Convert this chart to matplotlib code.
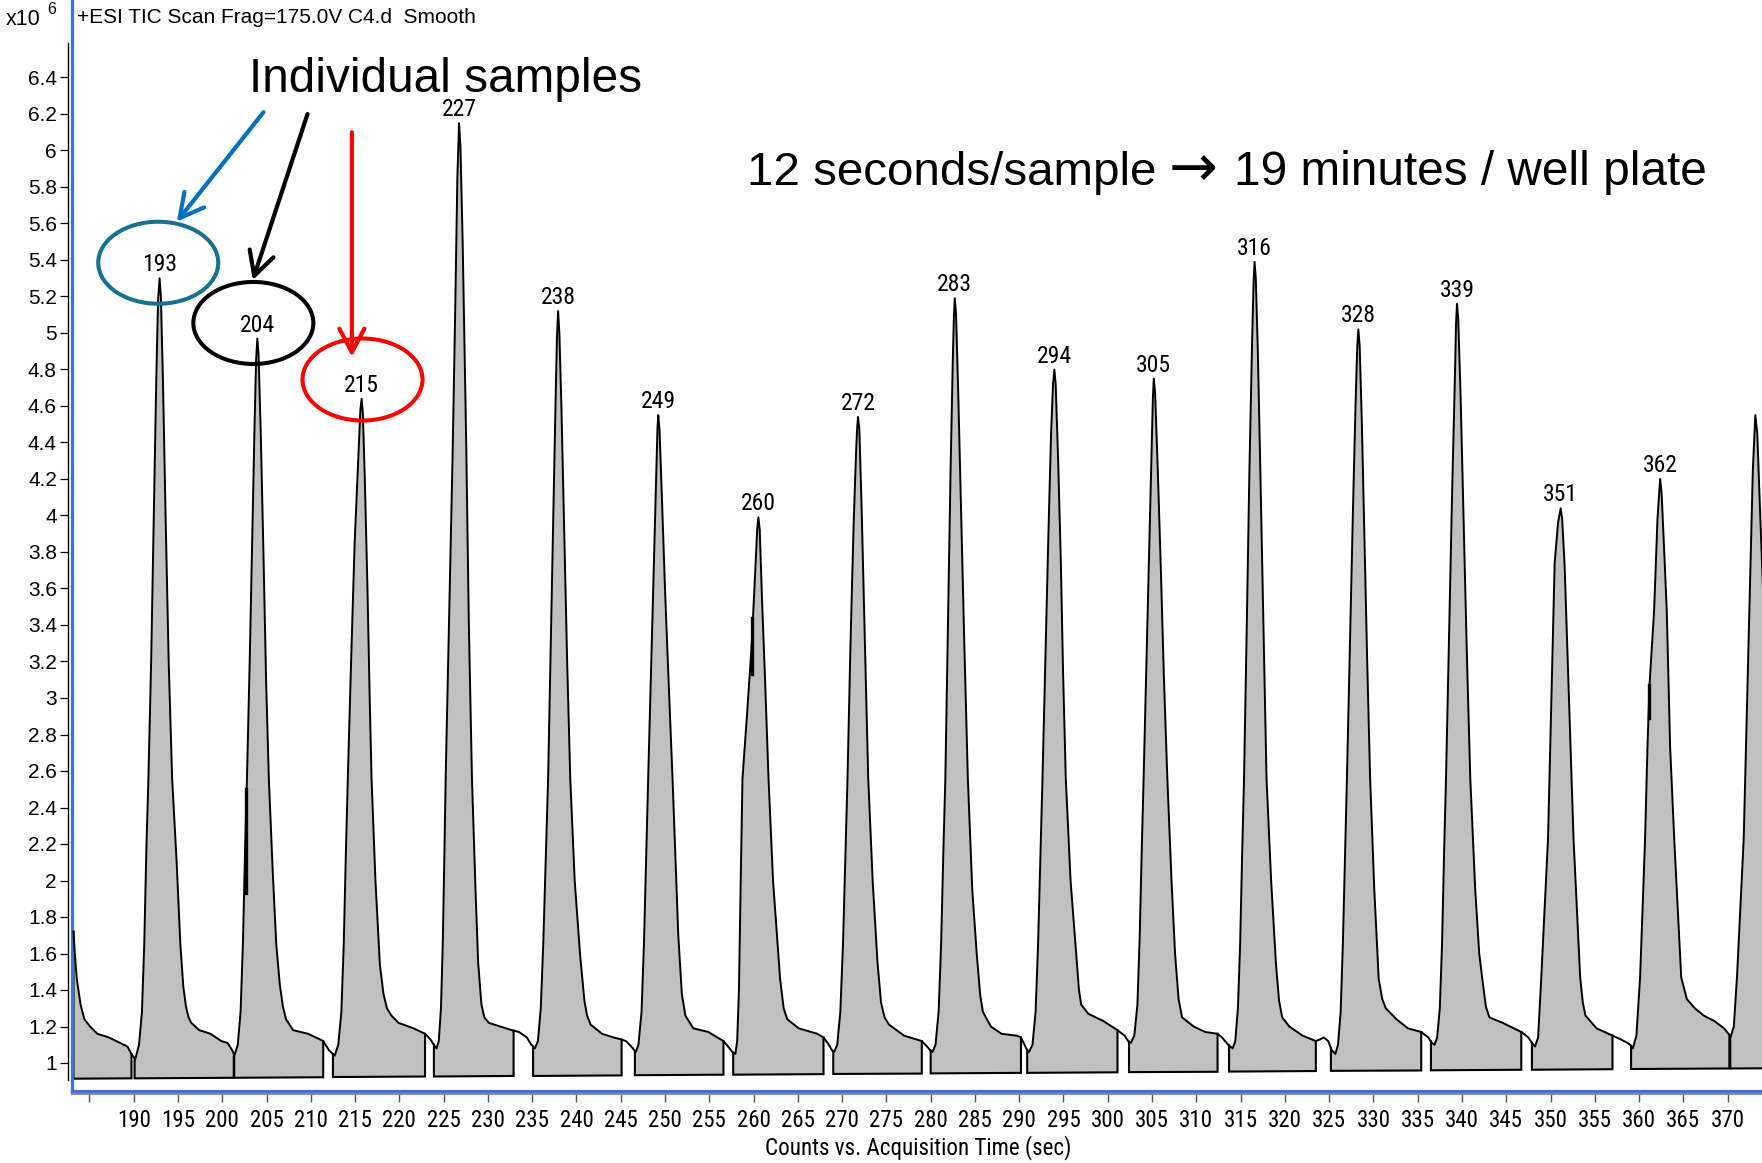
import numpy as np
import matplotlib
matplotlib.use("Agg")
import matplotlib.pyplot as plt
from matplotlib import font_manager as fm
from matplotlib.patches import Ellipse, Polygon

# ---------------- data (time in sec, counts in 10^6) ----------------
trace_pre = [(183.2, 1.72), (183.35, 1.60), (183.58, 1.46), (184.0, 1.32), (184.43, 1.24), (185.07, 1.20),
             (185.9, 1.16), (187.2, 1.14), (188.47, 1.11), (189.3, 1.09), (189.74, 1.05)]
trace_193 = [(190.17, 1.02), (190.6, 1.10), (190.93, 1.28), (191.19, 1.65), (191.44, 2.19), (191.66, 2.56),
             (191.97, 3.20), (192.3, 4.10), (192.55, 4.75), (192.75, 5.18), (192.92, 5.30), (193.07, 5.20),
             (193.3, 4.75), (193.6, 4.00), (193.95, 3.20), (194.34, 2.56), (194.85, 2.10), (195.27, 1.65),
             (195.6, 1.42), (195.9, 1.31), (196.2, 1.25), (196.5, 1.22), (197.4, 1.18), (198.67, 1.16),
             (199.9, 1.12), (200.6, 1.11), (201.0, 1.08)]
trace_204 = [(201.4, 1.045), (201.75, 1.10), (202.07, 1.28), (202.33, 1.65), (202.57, 2.15), (202.79, 2.56),
             (203.1, 3.20), (203.4, 3.90), (203.65, 4.50), (203.82, 4.85), (203.96, 4.97), (204.1, 4.88),
             (204.35, 4.45), (204.65, 3.80), (204.95, 3.10), (205.26, 2.56), (205.7, 2.05), (206.1, 1.65),
             (206.5, 1.43), (206.85, 1.31), (207.2, 1.24), (208.0, 1.18), (209.7, 1.16), (211.0, 1.13),
             (211.4, 1.12), (212.05, 1.07)]
trace_215 = [(212.7, 1.04), (213.1, 1.10), (213.45, 1.28), (213.72, 1.65), (213.96, 2.15), (214.18, 2.56),
             (214.55, 3.20), (214.95, 3.85), (215.35, 4.30), (215.6, 4.58), (215.74, 4.64), (215.88, 4.56),
             (216.1, 4.20), (216.4, 3.60), (216.65, 3.00), (216.86, 2.56), (217.3, 2.00), (217.8, 1.54),
             (218.2, 1.38), (218.6, 1.30), (219.1, 1.26), (219.9, 1.22), (221.6, 1.19), (222.9, 1.16),
             (223.5, 1.13), (223.9, 1.10)]
trace_227 = [(224.2, 1.08), (224.45, 1.12), (224.7, 1.30), (224.9, 1.65), (225.07, 2.10), (225.23, 2.56),
             (225.6, 3.40), (226.0, 4.30), (226.3, 5.10), (226.55, 5.85), (226.74, 6.15), (226.9, 6.02),
             (227.15, 5.50), (227.55, 4.40), (227.85, 3.40), (228.2, 2.56), (228.6, 1.95), (228.9, 1.55),
             (229.27, 1.32), (229.6, 1.25), (230.1, 1.22), (231.4, 1.20), (232.7, 1.18), (233.5, 1.17),
             (234.4, 1.14), (234.9, 1.10)]
trace_238 = [(235.3, 1.08), (235.65, 1.12), (235.97, 1.30), (236.25, 1.65), (236.55, 2.15), (236.8, 2.56),
             (237.1, 3.30), (237.4, 4.05), (237.65, 4.65), (237.8, 4.98), (237.93, 5.12), (238.07, 5.00),
             (238.3, 4.60), (238.6, 3.95), (238.95, 3.20), (239.3, 2.56), (239.8, 2.00), (240.4, 1.60),
             (240.9, 1.34), (241.2, 1.26), (241.6, 1.21), (242.9, 1.16), (244.2, 1.14), (245.0, 1.13),
             (245.6, 1.12), (246.2, 1.09)]
trace_249 = [(246.7, 1.06), (247.0, 1.10), (247.35, 1.28), (247.62, 1.65), (247.88, 2.15), (248.1, 2.56),
             (248.45, 3.20), (248.8, 3.85), (249.05, 4.30), (249.15, 4.48), (249.24, 4.55), (249.38, 4.47),
             (249.65, 4.10), (250.0, 3.60), (250.4, 3.10), (250.85, 2.56), (251.2, 2.10), (251.5, 1.70),
             (251.9, 1.38), (252.3, 1.26), (253.2, 1.19), (254.9, 1.17), (256.6, 1.12), (257.3, 1.08),
             (257.6, 1.06)]
trace_260 = [(257.95, 1.05), (258.15, 1.12), (258.35, 1.40), (258.55, 2.00), (258.75, 2.56), (259.25, 2.90),
             (259.8, 3.30), (260.15, 3.65), (260.42, 3.93), (260.55, 3.99), (260.7, 3.92), (260.95, 3.55),
             (261.3, 3.10), (261.69, 2.56), (262.2, 2.00), (263.0, 1.46), (263.4, 1.30), (263.8, 1.24),
             (265.1, 1.19), (267.2, 1.16), (267.9, 1.14), (268.5, 1.10), (268.85, 1.07)]
trace_272 = [(269.1, 1.06), (269.45, 1.10), (269.8, 1.28), (270.1, 1.65), (270.38, 2.15), (270.61, 2.56),
             (270.95, 3.30), (271.3, 3.95), (271.58, 4.35), (271.7, 4.48), (271.8, 4.54), (271.95, 4.47),
             (272.2, 4.05), (272.5, 3.45), (272.95, 2.56), (273.45, 2.00), (274.0, 1.55), (274.4, 1.33),
             (274.8, 1.25), (275.3, 1.21), (277.0, 1.15), (279.0, 1.12), (279.6, 1.09), (279.95, 1.07)]
trace_283 = [(280.2, 1.06), (280.55, 1.10), (280.9, 1.28), (281.18, 1.65), (281.43, 2.15), (281.66, 2.56),
             (281.95, 3.40), (282.25, 4.25), (282.5, 4.85), (282.63, 5.10), (282.73, 5.19), (282.87, 5.10),
             (283.1, 4.70), (283.45, 4.00), (283.8, 3.30), (284.2, 2.56), (284.7, 1.95), (285.2, 1.60),
             (285.6, 1.37), (285.9, 1.28), (286.8, 1.20), (288.0, 1.16), (289.7, 1.15), (290.2, 1.14),
             (290.6, 1.10), (290.9, 1.07)]
trace_294 = [(291.1, 1.06), (291.5, 1.10), (291.85, 1.28), (292.13, 1.65), (292.4, 2.15), (292.63, 2.56),
             (292.95, 3.20), (293.3, 3.90), (293.6, 4.45), (293.82, 4.72), (293.97, 4.80), (294.12, 4.72),
             (294.4, 4.30), (294.7, 3.75), (294.95, 3.15), (295.26, 2.56), (295.8, 2.00), (296.4, 1.62),
             (296.75, 1.40), (297.0, 1.32), (297.8, 1.27), (299.5, 1.23), (301.1, 1.18), (301.9, 1.15),
             (302.3, 1.12)]
trace_305 = [(302.6, 1.11), (303.0, 1.15), (303.35, 1.32), (303.6, 1.68), (303.83, 2.15), (304.05, 2.56),
             (304.4, 3.25), (304.75, 3.95), (305.0, 4.45), (305.1, 4.65), (305.2, 4.75), (305.35, 4.67),
             (305.65, 4.25), (306.0, 3.70), (306.35, 3.10), (306.73, 2.56), (307.2, 2.00), (307.6, 1.60),
             (308.0, 1.35), (308.4, 1.25), (309.7, 1.20), (311.0, 1.17), (312.4, 1.16), (312.9, 1.14),
             (313.6, 1.10)]
trace_316 = [(314.1, 1.08), (314.4, 1.12), (314.7, 1.30), (314.95, 1.65), (315.18, 2.15), (315.39, 2.56),
             (315.7, 3.40), (316.0, 4.25), (316.3, 4.95), (316.47, 5.28), (316.58, 5.39), (316.72, 5.30),
             (316.95, 4.90), (317.25, 4.20), (317.6, 3.35), (317.93, 2.56), (318.45, 2.00), (319.0, 1.54),
             (319.35, 1.34), (319.7, 1.25), (320.5, 1.20), (322.0, 1.15), (323.5, 1.12), (324.0, 1.13),
             (324.4, 1.14), (324.9, 1.12), (325.3, 1.07)]
trace_328 = [(325.7, 1.05), (326.0, 1.10), (326.3, 1.28), (326.55, 1.65), (326.8, 2.15), (327.01, 2.56),
             (327.35, 3.30), (327.7, 4.05), (327.98, 4.60), (328.17, 4.92), (328.3, 5.02), (328.45, 4.93),
             (328.7, 4.50), (329.0, 3.85), (329.3, 3.20), (329.63, 2.56), (330.1, 1.95), (330.6, 1.46),
             (331.0, 1.35), (331.4, 1.30), (332.6, 1.24), (333.9, 1.19), (335.4, 1.17), (336.2, 1.14),
             (336.6, 1.11)]
trace_339 = [(336.9, 1.10), (337.2, 1.14), (337.5, 1.30), (337.75, 1.65), (337.98, 2.15), (338.2, 2.56),
             (338.55, 3.35), (338.9, 4.15), (339.2, 4.75), (339.33, 5.05), (339.44, 5.16), (339.58, 5.08),
             (339.85, 4.65), (340.2, 3.95), (340.55, 3.25), (340.94, 2.56), (341.5, 1.95), (341.95, 1.60),
             (342.3, 1.46), (342.7, 1.31), (343.1, 1.25), (344.6, 1.22), (346.7, 1.17), (347.5, 1.14),
             (347.9, 1.11)]
trace_351 = [(348.25, 1.09), (348.6, 1.14), (348.96, 1.47), (349.72, 2.23), (350.09, 2.98), (350.47, 3.74),
             (350.85, 3.96), (351.15, 4.04), (351.32, 3.98), (351.6, 3.72), (352.1, 2.98), (352.6, 2.23),
             (353.35, 1.47), (353.65, 1.33), (353.95, 1.26), (355.2, 1.19), (357.0, 1.15), (357.9, 1.13),
             (358.7, 1.11), (359.0, 1.10)]
trace_362 = [(359.3, 1.08), (359.7, 1.15), (360.12, 1.47), (360.68, 2.23), (360.95, 2.73), (361.18, 3.07),
             (361.7, 3.48), (362.08, 3.98), (362.38, 4.20), (362.55, 4.12), (362.8, 3.85), (363.13, 3.48),
             (363.51, 2.73), (363.97, 2.23), (364.76, 1.47), (365.4, 1.35), (366.3, 1.30), (367.3, 1.26),
             (368.5, 1.23), (369.6, 1.19), (370.1, 1.16)]
trace_373 = [(370.35, 1.145), (370.7, 1.20), (371.06, 1.47), (371.82, 2.23), (372.46, 3.48), (372.85, 4.25),
             (373.13, 4.55), (373.35, 4.45), (373.7, 3.98), (374.0, 3.60)]

sample_labels = ["193", "204", "215", "227", "238", "249", "260", "272", "283", "294", "305", "316",
                 "328", "339", "351", "362"]
sample_traces = [trace_193, trace_204, trace_215, trace_227, trace_238, trace_249, trace_260, trace_272,
                 trace_283, trace_294, trace_305, trace_316, trace_328, trace_339, trace_351, trace_362]

# integration windows (start, end) and their baselines
seg_start = [183.2, 190.1, 201.35, 212.5, 223.9, 235.1, 246.6, 257.7, 269.0, 280.0, 290.9, 302.4,
             313.7, 325.2, 336.5, 347.9, 359.1, 370.3]
seg_end = [189.75, 201.3, 211.4, 222.9, 232.9, 245.1, 256.6, 267.9, 279.0, 290.2, 301.1, 312.4,
           323.5, 335.4, 346.7, 357.0, 370.2, 374.5]
base_start = [0.914, 0.916, 0.919, 0.923, 0.926, 0.929, 0.933, 0.936, 0.940, 0.943, 0.946, 0.950,
              0.953, 0.957, 0.960, 0.963, 0.967, 0.970]
base_end = [0.916, 0.919, 0.922, 0.926, 0.929, 0.932, 0.936, 0.939, 0.942, 0.946, 0.949, 0.952,
            0.956, 0.959, 0.963, 0.966, 0.970, 0.971]

# small integration markers on peak flanks (time, low, high)
marks = [(202.72, 1.93, 2.50), (259.85, 3.13, 3.44), (361.12, 2.89, 3.07)]

# highlighted samples (index into sample list), colours, centre offsets (sec, counts)
highlight_idx = [0, 1, 2]
highlight_col = ["#17708F", "#000000", "#FF0000"]
highlight_off = [(-0.15, 0.085), (-0.45, 0.085), (0.1, 0.105)]
# arrows: (tail t, tail v) -> (tip t, tip v)
arrow_tail = [(204.66, 6.21), (209.63, 6.20), (214.64, 6.10)]
arrow_tip = [(194.87, 5.61), (203.45, 5.29), (214.64, 4.87)]
arrow_col = ["#0070C0", "#000000", "#FF0000"]

x_ticks = list(range(185, 371, 5))
y_ticks = [1.0, 1.2, 1.4, 1.6, 1.8, 2.0, 2.2, 2.4, 2.6, 2.8, 3.0, 3.2, 3.4, 3.6, 3.8, 4.0, 4.2,
           4.4, 4.6, 4.8, 5.0, 5.2, 5.4, 5.6, 5.8, 6.0, 6.2, 6.4]

# ---------------- fonts ----------------
names = {f.name for f in fm.fontManager.ttflist}
REG = "Liberation Sans" if "Liberation Sans" in names else "DejaVu Sans"
NARROW = None
for cand in ("Liberation Sans Narrow", "Arial Narrow", "Roboto Condensed", "Open Sans Condensed",
             "Noto Sans Condensed", "DejaVu Sans Condensed"):
    if cand in names:
        NARROW = cand
        break
if NARROW is None:
    NARROW, XT_SIZE, PK_SIZE, AXL_SIZE = REG, 15.5, 16, 15
else:
    XT_SIZE, PK_SIZE, AXL_SIZE = 16.5, 17, 16.6
plt.rcParams["font.family"] = [REG, "DejaVu Sans"]
ARROW_FONT = ["DejaVu Sans"]

# ---------------- layout ----------------
W, H = 1762, 1163
fig = plt.figure(figsize=(W / 100, H / 100), dpi=100)

PX_T0, PX_PER_S = 133.7, 8.855      # x pixel of t=190, pixels per second
PY_V0, PX_PER_V = 1063.0, 182.5     # y pixel (from top) of 1.0, pixels per unit


def t_at(x):
    return 190.0 + (x - PX_T0) / PX_PER_S


def v_at(y):
    return 1.0 + (PY_V0 - y) / PX_PER_V


AX_L, AX_B = 71.5, 1090.7
ax = fig.add_axes([AX_L / W, 1 - AX_B / H, (W - AX_L) / W, AX_B / H])
ax.set_xlim(t_at(AX_L), t_at(W))
ax.set_ylim(v_at(AX_B), v_at(0))
for s in ("top", "right"):
    ax.spines[s].set_visible(False)
for s in ("left", "bottom"):
    ax.spines[s].set_color("#4472C4")
    ax.spines[s].set_linewidth(2.3)
ax.set_xticks([])
ax.set_yticks([])
ax.patch.set_visible(False)

# y axis (black) just left of blue frame
ay = fig.add_axes([68.0 / W, 1 - AX_B / H, 0.0004, AX_B / H])
ay.set_ylim(ax.get_ylim())
ay.patch.set_visible(False)
for s in ("top", "right", "bottom"):
    ay.spines[s].set_visible(False)
ay.spines["left"].set_bounds(v_at(1080), v_at(43))
ay.spines["left"].set_linewidth(1.0)
ay.set_xticks([])
ay.set_yticks(y_ticks)
ay.set_yticklabels([f"{v:g}" for v in y_ticks])
ay.tick_params(axis="y", direction="out", length=5.8, width=0.9, pad=2.2, labelsize=15)

# x axis (gray) just below blue frame
XA_Y = 1094.0
axx = fig.add_axes([AX_L / W, 1 - XA_Y / H, (W - AX_L) / W, 0.0004])
axx.set_xlim(ax.get_xlim())
axx.patch.set_visible(False)
for s in ("top", "right", "left"):
    axx.spines[s].set_visible(False)
axx.spines["bottom"].set_color("#8c8c8c")
axx.spines["bottom"].set_linewidth(1.6)
axx.set_yticks([])
axx.set_xticks(x_ticks)
axx.set_xticklabels(["" if v == 185 else str(v) for v in x_ticks], family=NARROW)
axx.tick_params(axis="x", direction="out", length=6, width=1.0, color="#555555", pad=5,
                labelsize=XT_SIZE)

# ---------------- chromatogram ----------------
all_pts = trace_pre + [p for tr in sample_traces for p in tr] + trace_373
t_all = np.array([p[0] for p in all_pts])
v_all = np.array([p[1] for p in all_pts])

for s, e, b0, b1 in zip(seg_start, seg_end, base_start, base_end):
    m = (t_all > s) & (t_all < e)
    vs0 = np.interp(s, t_all, v_all)
    ve0 = np.interp(e, t_all, v_all)
    poly = [(s, b0), (s, vs0)] + list(zip(t_all[m], v_all[m])) + [(e, ve0), (e, b1)]
    ax.add_patch(Polygon(poly, closed=True, facecolor="#c0c0c0", edgecolor="none", zorder=1))
    ax.plot([s, s, e, e], [vs0, b0, b1, ve0], color="black", lw=1.5, zorder=2,
            solid_joinstyle="miter")

ax.plot(t_all, v_all, color="black", lw=1.4, zorder=3, solid_joinstyle="round")
for t, lo, hi in marks:
    ax.plot([t, t], [lo, hi], color="black", lw=2.4, zorder=4)

# peak labels
apex = []
for lab, tr in zip(sample_labels, sample_traces):
    tp, vp = max(tr, key=lambda p: p[1])
    apex.append((tp, vp))
    ax.annotate(lab, (tp, vp), xytext=(0, 5.0), textcoords="offset points", ha="center",
                va="baseline", fontsize=PK_SIZE, family=NARROW, zorder=6, annotation_clip=False)

# highlight ellipses
for i, c, (dt, dv) in zip(highlight_idx, highlight_col, highlight_off):
    tp, vp = apex[i]
    ax.add_patch(Ellipse((tp + dt, vp + dv), width=120 / PX_PER_S, height=82 / PX_PER_V,
                         fill=False, edgecolor=c, lw=2.9, zorder=7, clip_on=False))

# arrows
for (tt, tv), (ht, hv), c in zip(arrow_tail, arrow_tip, arrow_col):
    ax.annotate("", xy=(ht, hv), xytext=(tt, tv),
                arrowprops=dict(arrowstyle="->,head_length=0.85,head_width=0.45", lw=3.0, color=c,
                                shrinkA=0, shrinkB=0, mutation_scale=20),
                zorder=8, annotation_clip=False)

# ---------------- texts ----------------
fig.text(77 / W, 1 - 22.7 / H, "+ESI TIC Scan Frag=175.0V C4.d  Smooth", fontsize=15,
         ha="left", va="baseline")
fig.text(6 / W, 1 - 25 / H, "x10", fontsize=15.5, ha="left", va="baseline")
fig.text(47 / W, 1 - 14 / H, "6", fontsize=11.5, ha="left", va="baseline")
fig.text(249 / W, 1 - 91.8 / H, "Individual samples", fontsize=34.4, ha="left", va="baseline")
fig.text(746.7 / W, 1 - 185 / H, "12 seconds/sample", fontsize=34.2, ha="left", va="baseline")
fig.text(1193 / W, 1 - 186 / H, "\u2192", fontsize=42, family=ARROW_FONT, ha="center",
         va="baseline")
fig.text(1234 / W, 1 - 185 / H, "19 minutes / well plate", fontsize=34.4, ha="left", va="baseline")
fig.text(918 / W, 1 - 1148 / H, "Counts vs. Acquisition Time (sec)", fontsize=AXL_SIZE,
         family=NARROW, ha="center", va="center")

fig.savefig("out.png", dpi=100)
